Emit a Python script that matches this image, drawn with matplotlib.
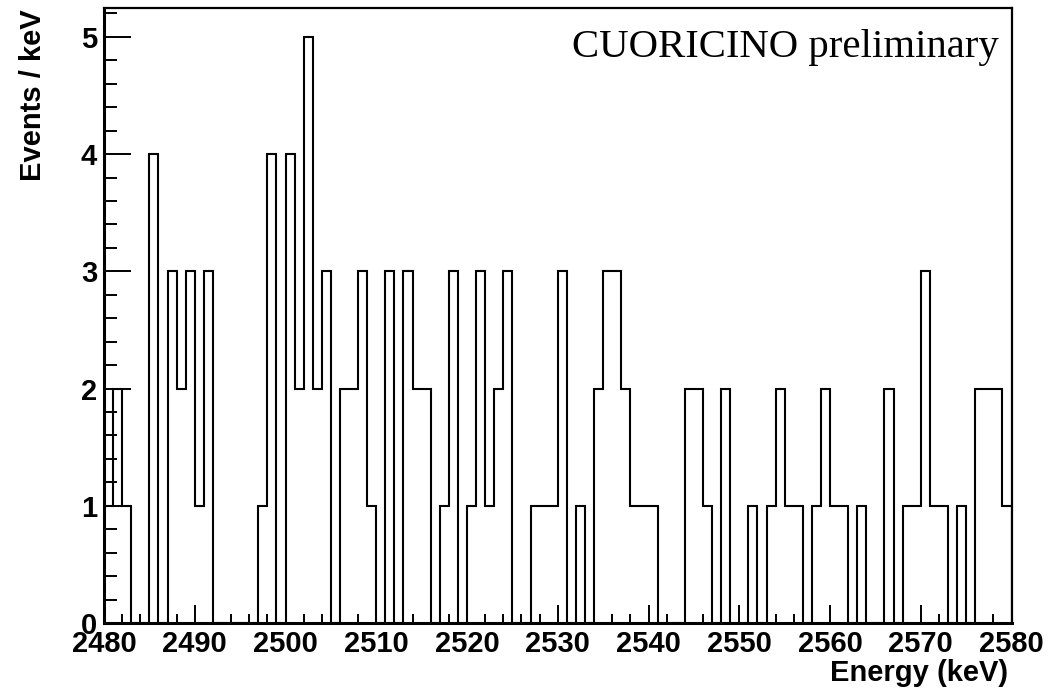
import matplotlib.pyplot as plt
import numpy as np
from matplotlib.ticker import MultipleLocator

# bin edges (1 keV bins) and counts per bin
bin_edges = np.arange(2480, 2581, 1)
counts = [1, 2, 1, 0, 0, 4, 0, 3, 2, 3,
          1, 3, 0, 0, 0, 0, 0, 1, 4, 0,
          4, 2, 5, 2, 3, 0, 2, 2, 3, 1,
          0, 3, 0, 3, 2, 2, 0, 1, 3, 0,
          1, 3, 1, 2, 3, 0, 0, 1, 1, 1,
          3, 0, 1, 0, 2, 3, 3, 2, 1, 1,
          1, 0, 0, 0, 2, 2, 1, 0, 2, 0,
          0, 1, 0, 1, 2, 1, 1, 0, 1, 2,
          1, 1, 0, 1, 0, 0, 2, 0, 1, 1,
          3, 1, 1, 0, 1, 0, 2, 2, 2, 1]

x_label = 'Energy (keV)'
y_label = 'Events / keV'
note = 'CUORICINO preliminary'

sans = ['Liberation Sans', 'DejaVu Sans']

fig = plt.figure(figsize=(10.59, 6.89), dpi=100)
ax = fig.add_axes([0.0982, 0.0958, 0.9552 - 0.0982, 0.9891 - 0.0958])

ax.stairs(counts, bin_edges, color='black', lw=1.5, baseline=0)

ax.set_xlim(2480, 2580)
ax.set_ylim(0, 5.25)

ax.xaxis.set_major_locator(MultipleLocator(10))
ax.xaxis.set_minor_locator(MultipleLocator(2))
ax.yaxis.set_major_locator(MultipleLocator(1))
ax.yaxis.set_minor_locator(MultipleLocator(0.2))

ax.tick_params(axis='x', which='major', direction='in', length=13, width=1.4, pad=5)
ax.tick_params(axis='x', which='minor', direction='in', length=6.5, width=1.4)
ax.tick_params(axis='y', which='major', direction='in', length=19.5, width=1.4, pad=5)
ax.tick_params(axis='y', which='minor', direction='in', length=9.5, width=1.4)
ax.tick_params(top=False, right=False, which='both')

for lab in ax.get_xticklabels() + ax.get_yticklabels():
    lab.set_fontfamily(sans)
    lab.set_fontweight('bold')
    lab.set_fontsize(21)

for side in ['left', 'bottom']:
    ax.spines[side].set_linewidth(2.2)
for side in ['top', 'right']:
    ax.spines[side].set_linewidth(1.6)

fig.text(0.952, 0.0116, x_label, ha='right', va='baseline',
         fontfamily=sans, fontweight='bold', fontsize=21)
fig.text(0.031, 0.986, y_label, ha='center', va='top', rotation=90,
         fontfamily=sans, fontweight='bold', fontsize=21)

ax.text(0.9855, 0.965, note, transform=ax.transAxes, ha='right', va='top',
        fontfamily=['Liberation Serif', 'DejaVu Serif'], fontsize=29.3)

plt.savefig('out.png', dpi=100)
